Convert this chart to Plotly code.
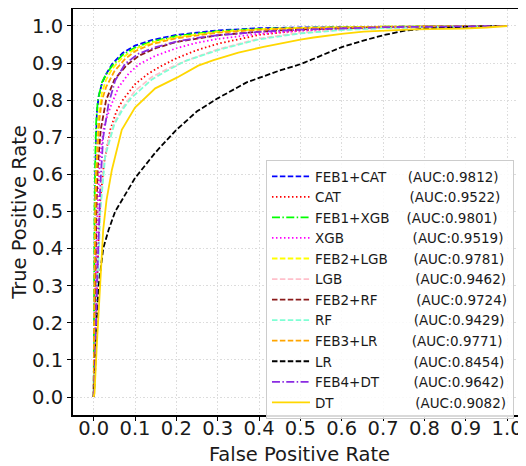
import plotly.graph_objects as go

# ---- data ----
names = ["FEB1+CAT", "CAT", "FEB1+XGB", "XGB", "FEB2+LGB", "LGB",
         "FEB2+RF", "RF", "FEB3+LR", "LR", "FEB4+DT", "DT"]
auc_labels = ["0.9812", "0.9522", "0.9801", "0.9519", "0.9781", "0.9462",
              "0.9724", "0.9429", "0.9771", "0.8454", "0.9642", "0.9082"]
pad_spaces = [5, 16, 4, 16, 6, 17, 9, 19, 8, 19, 8, 19]

fpr_feb1_cat = [0, 0.001, 0.002, 0.004, 0.006, 0.008, 0.012, 0.02, 0.03, 0.045, 0.07, 0.1, 0.14, 0.2, 0.3, 0.4, 0.5, 0.7, 1.0]
tpr_feb1_cat = [0, 0.25, 0.45, 0.6, 0.7, 0.77, 0.81, 0.845, 0.87, 0.898, 0.927, 0.947, 0.962, 0.976, 0.988, 0.994, 0.996, 0.998, 1.0]

fpr_cat = [0, 0.004, 0.008, 0.012, 0.016, 0.025, 0.04, 0.055, 0.07, 0.1, 0.13, 0.16, 0.2, 0.25, 0.3, 0.4, 0.5, 0.6, 0.8, 1.0]
tpr_cat = [0, 0.15, 0.3, 0.43, 0.53, 0.63, 0.72, 0.77, 0.80, 0.843, 0.87, 0.89, 0.913, 0.935, 0.952, 0.976, 0.988, 0.994, 0.998, 1.0]

fpr_feb1_xgb = [0, 0.001, 0.002, 0.004, 0.006, 0.01, 0.02, 0.03, 0.045, 0.07, 0.1, 0.14, 0.2, 0.3, 0.4, 0.5, 0.7, 1.0]
tpr_feb1_xgb = [0, 0.3, 0.5, 0.65, 0.74, 0.8, 0.848, 0.87, 0.893, 0.922, 0.942, 0.958, 0.973, 0.986, 0.992, 0.995, 0.998, 1.0]

fpr_xgb = [0, 0.003, 0.006, 0.01, 0.015, 0.025, 0.04, 0.06, 0.085, 0.11, 0.15, 0.2, 0.25, 0.3, 0.4, 0.5, 0.6, 0.8, 1.0]
tpr_xgb = [0, 0.2, 0.38, 0.52, 0.64, 0.73, 0.78, 0.835, 0.872, 0.897, 0.92, 0.94, 0.955, 0.965, 0.979, 0.987, 0.992, 0.997, 1.0]

fpr_feb2_lgb = [0, 0.001, 0.003, 0.005, 0.008, 0.012, 0.02, 0.03, 0.045, 0.07, 0.1, 0.14, 0.2, 0.3, 0.4, 0.5, 0.7, 1.0]
tpr_feb2_lgb = [0, 0.22, 0.42, 0.58, 0.68, 0.76, 0.82, 0.855, 0.885, 0.915, 0.938, 0.955, 0.97, 0.984, 0.991, 0.995, 0.998, 1.0]

fpr_lgb = [0, 0.004, 0.008, 0.012, 0.016, 0.025, 0.035, 0.05, 0.07, 0.1, 0.14, 0.18, 0.22, 0.3, 0.4, 0.5, 0.6, 0.7, 0.85, 1.0]
tpr_lgb = [0, 0.15, 0.3, 0.42, 0.52, 0.63, 0.69, 0.74, 0.78, 0.825, 0.862, 0.885, 0.905, 0.937, 0.966, 0.982, 0.99, 0.995, 0.998, 1.0]

fpr_feb2_rf = [0, 0.002, 0.004, 0.007, 0.01, 0.017, 0.03, 0.05, 0.08, 0.11, 0.15, 0.2, 0.3, 0.4, 0.5, 0.7, 1.0]
tpr_feb2_rf = [0, 0.2, 0.38, 0.52, 0.62, 0.72, 0.8, 0.855, 0.895, 0.92, 0.94, 0.957, 0.975, 0.985, 0.991, 0.997, 1.0]

fpr_rf = [0, 0.004, 0.008, 0.012, 0.016, 0.028, 0.04, 0.05, 0.07, 0.09, 0.14, 0.17, 0.22, 0.3, 0.4, 0.5, 0.6, 0.7, 0.85, 1.0]
tpr_rf = [0, 0.14, 0.28, 0.4, 0.5, 0.65, 0.7, 0.735, 0.775, 0.805, 0.855, 0.875, 0.905, 0.935, 0.964, 0.98, 0.989, 0.994, 0.998, 1.0]

fpr_feb3_lr = [0, 0.001, 0.003, 0.005, 0.008, 0.014, 0.02, 0.03, 0.05, 0.075, 0.1, 0.14, 0.2, 0.3, 0.4, 0.5, 0.7, 1.0]
tpr_feb3_lr = [0, 0.2, 0.4, 0.55, 0.64, 0.75, 0.8, 0.835, 0.878, 0.91, 0.932, 0.951, 0.967, 0.982, 0.99, 0.994, 0.998, 1.0]

fpr_lr = [0, 0.003, 0.007, 0.012, 0.023, 0.036, 0.052, 0.07, 0.1, 0.15, 0.2, 0.25, 0.3, 0.37, 0.45, 0.5, 0.55, 0.6, 0.65, 0.7, 0.75, 0.8, 0.9, 1.0]
tpr_lr = [0, 0.05, 0.2, 0.3, 0.4, 0.45, 0.5, 0.535, 0.59, 0.66, 0.72, 0.77, 0.805, 0.848, 0.88, 0.897, 0.92, 0.943, 0.96, 0.975, 0.987, 0.993, 0.998, 1.0]

fpr_feb4_dt = [0, 0.004, 0.008, 0.012, 0.016, 0.023, 0.036, 0.052, 0.076, 0.108, 0.15, 0.2, 0.25, 0.3, 0.4, 0.5, 0.6, 0.7, 1.0]
tpr_feb4_dt = [0, 0.1, 0.3, 0.45, 0.57, 0.70, 0.79, 0.853, 0.898, 0.925, 0.943, 0.958, 0.968, 0.975, 0.984, 0.99, 0.994, 0.997, 1.0]

fpr_dt = [0, 0.002, 0.007, 0.015, 0.023, 0.031, 0.044, 0.068, 0.1, 0.149, 0.2, 0.253, 0.29, 0.35, 0.411, 0.5, 0.532, 0.6, 0.653, 0.774, 0.895, 0.95, 1.0]
tpr_dt = [0, 0.01, 0.127, 0.307, 0.45, 0.53, 0.612, 0.72, 0.78, 0.832, 0.86, 0.893, 0.908, 0.928, 0.944, 0.963, 0.969, 0.979, 0.985, 0.991, 0.993, 0.996, 1.0]

fprs = [fpr_feb1_cat, fpr_cat, fpr_feb1_xgb, fpr_xgb, fpr_feb2_lgb, fpr_lgb,
        fpr_feb2_rf, fpr_rf, fpr_feb3_lr, fpr_lr, fpr_feb4_dt, fpr_dt]
tprs = [tpr_feb1_cat, tpr_cat, tpr_feb1_xgb, tpr_xgb, tpr_feb2_lgb, tpr_lgb,
        tpr_feb2_rf, tpr_rf, tpr_feb3_lr, tpr_lr, tpr_feb4_dt, tpr_dt]

tick_vals = [0.0, 0.1, 0.2, 0.3, 0.4, 0.5, 0.6, 0.7, 0.8, 0.9, 1.0]
tick_text = ["0.0", "0.1", "0.2", "0.3", "0.4", "0.5", "0.6", "0.7", "0.8", "0.9", "1.0"]

# ---- styles ----
DASH = "5.5px,2.4px"
DOT = "1.5px,2.5px"
DASHDOT = "8px,2.4px,1.5px,2.4px"
colors = ["#0000FF", "#FF0000", "#00FF00", "#FF00FF", "#FFFF00", "#FFC0CB",
          "#8B1A1A", "#7FFFD4", "#FFA500", "#000000", "#8A2BE2", "#FFD700"]
dashes = [DASH, DOT, DASHDOT, DOT, DASH, DASH, DASH, DASH, DASH, DASH, DASHDOT, "solid"]

FONT = "DejaVu Sans"
fig = go.Figure()
for n, a, p, fx, ty, c, d in zip(names, auc_labels, pad_spaces, fprs, tprs, colors, dashes):
    label = n + "\u00a0" * p + "(AUC:" + a + ")"
    fig.add_trace(go.Scatter(x=fx, y=ty, mode="lines", name=label,
                             line=dict(color=c, width=1.8, dash=d)))

axis_common = dict(
    showgrid=True, gridcolor="#dcdcdc", griddash="1.5px,2px", gridwidth=1,
    zeroline=False, showline=True, linecolor="black", linewidth=2,
    ticks="outside", ticklen=4, tickwidth=1.2, tickcolor="black",
    tickfont=dict(family=FONT, size=19.5, color="#1a1a1a"),
    tickvals=tick_vals, ticktext=tick_text, automargin=False,
)
# the page body has an 8px default margin, so the figure is sized to fit the window
fig.update_layout(
    width=518, height=458,
    margin=dict(l=65, r=0, t=1, b=51),
    paper_bgcolor="white", plot_bgcolor="white",
    font=dict(family=FONT, color="#1a1a1a"),
    showlegend=True,
    legend=dict(
        x=0.426, y=0.628, xanchor="left", yanchor="top",
        bgcolor="rgba(255,255,255,0.85)", bordercolor="#cccccc", borderwidth=1,
        font=dict(family=FONT, size=13.5, color="#1a1a1a"),
        itemwidth=38, tracegroupgap=0,
    ),
    xaxis=dict(range=[-0.05, 1.0458], mirror=True, ticklabelstandoff=-9,
               title=dict(text="False Positive Rate", font=dict(family=FONT, size=19.5), standoff=12),
               **axis_common),
    yaxis=dict(range=[-0.0485, 1.0458], mirror=False,
               title=dict(text="True Positive Rate", font=dict(family=FONT, size=19.5), standoff=6),
               **axis_common),
)
fig.write_html("out.html")
